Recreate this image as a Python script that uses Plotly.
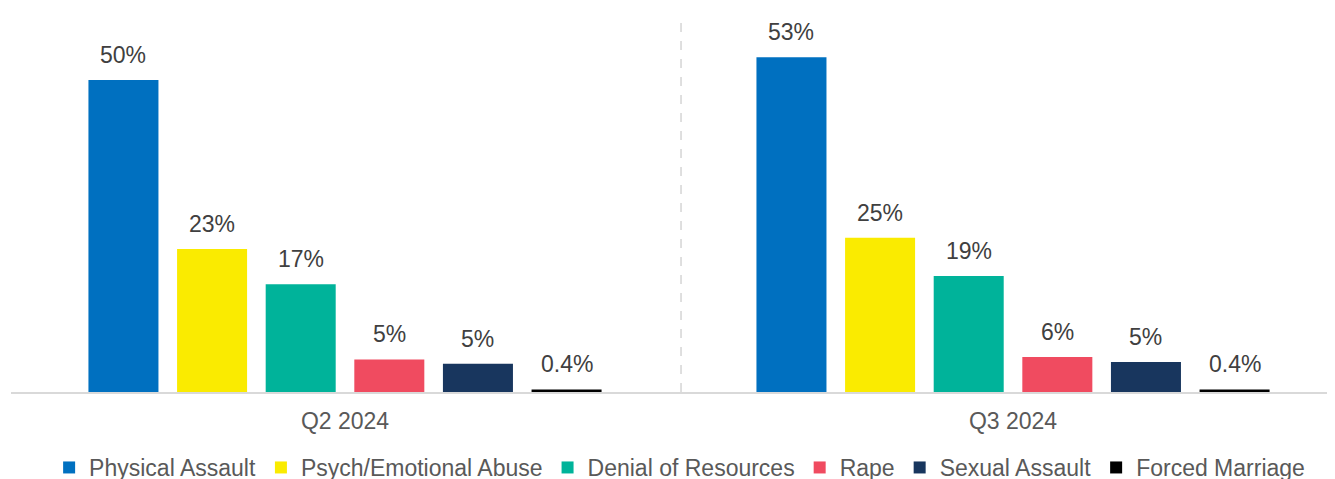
import plotly.graph_objects as go

periods = ["Q2 2024", "Q3 2024"]
series = ["Physical Assault", "Psych/Emotional Abuse", "Denial of Resources", "Rape", "Sexual Assault", "Forced Marriage"]
colors = ["#0070C0", "#FAEB00", "#00B39A", "#F04B60", "#18365E", "#000000"]
values = {
    "Physical Assault": [49.8, 53.4],
    "Psych/Emotional Abuse": [22.8, 24.6],
    "Denial of Resources": [17.2, 18.5],
    "Rape": [5.2, 5.6],
    "Sexual Assault": [4.5, 4.8],
    "Forced Marriage": [0.4, 0.4],
}
labels = {
    "Physical Assault": ["50%", "53%"],
    "Psych/Emotional Abuse": ["23%", "25%"],
    "Denial of Resources": ["17%", "19%"],
    "Rape": ["5%", "6%"],
    "Sexual Assault": ["5%", "5%"],
    "Forced Marriage": ["0.4%", "0.4%"],
}

FONT = "Liberation Sans, Arial, sans-serif"
bargap = 0.204
bargroupgap = 0.21
xs = list(range(len(periods)))

fig = go.Figure()
annotations = []
n = len(series)
slot = (1 - bargap) / n
for i, s in enumerate(series):
    fig.add_trace(go.Bar(
        name=s, x=xs, y=values[s], marker=dict(color=colors[i], line=dict(width=0)),
        hoverinfo="skip",
    ))
    for j, x in enumerate(xs):
        annotations.append(dict(
            x=x + (i - (n - 1) / 2) * slot, y=values[s][j], xref="x", yref="y",
            text=labels[s][j], showarrow=False, yanchor="bottom", yshift=10,
            font=dict(family=FONT, size=23, color="#404040"),
        ))

fig.add_shape(type="line", x0=0.503, x1=0.503, y0=0, y1=1, xref="x", yref="paper",
              line=dict(color="#BFBFBF", width=1, dash="dash"))

fig.update_layout(
    width=1327, height=485,
    margin=dict(l=3, r=0, t=8, b=101),
    paper_bgcolor="white", plot_bgcolor="white",
    barmode="group", bargap=bargap, bargroupgap=bargroupgap,
    font=dict(family=FONT, size=23, color="#595959"),
    annotations=annotations,
    showlegend=True,
    legend=dict(orientation="h", x=0.505, xanchor="center", y=-0.258, yanchor="bottom",
                font=dict(family=FONT, size=23, color="#595959"),
                itemwidth=30, traceorder="normal"),
    xaxis=dict(range=[-0.5, 1.482], tickvals=xs, ticktext=periods, showline=True,
               linecolor="#D9D9D9", linewidth=1.5, showgrid=False, zeroline=False,
               ticks="", ticklabelstandoff=8,
               tickfont=dict(family=FONT, size=23, color="#595959")),
    yaxis=dict(range=[0, 60], visible=False, showgrid=False, zeroline=False),
)

fig.write_html("out.html")
